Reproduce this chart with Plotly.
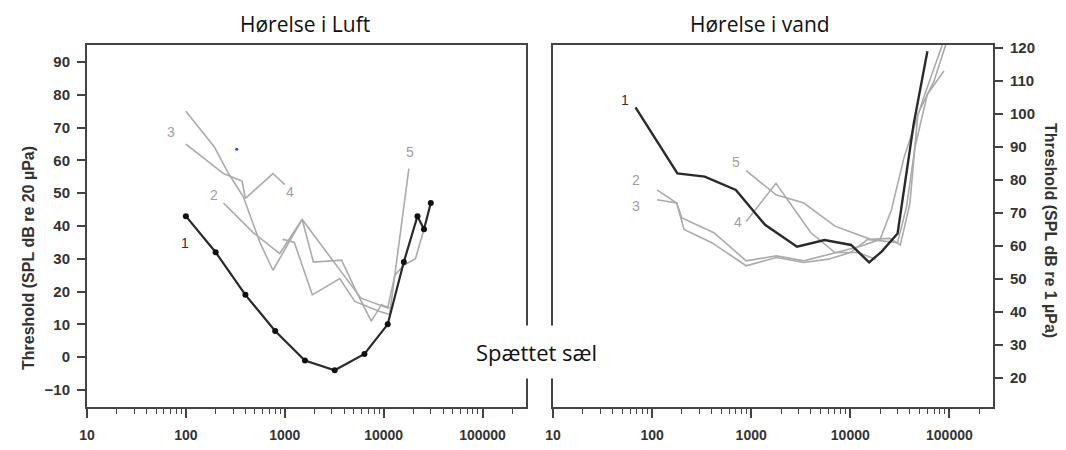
import plotly.graph_objects as go

# ---------------- Data: in air (left panel) ----------------
air1_f = [100, 200, 400, 800, 1600, 3200, 6400, 11000, 16000, 22000, 25600, 30000]
air1_v = [43, 32, 19, 8, -1, -4, 1, 10, 29, 43, 39, 47]

air2_f = [240, 480, 890, 1500, 5900, 11000, 13000, 16000, 21000, 25600]
air2_v = [47, 38, 31.6, 42, 18, 15, 25, 28, 30, 39]

air3_f = [100, 195, 270, 380, 560, 760, 1500, 1950, 3750, 5500, 7500, 9500, 11500]
air3_v = [75, 64, 56, 49, 35, 26.5, 42, 29, 29.6, 19, 11, 16, 15]

air4_f = [100, 240, 370, 400, 760, 1000]
air4_v = [65, 56, 53.7, 48.4, 56, 52.6]

air5_f = [950, 1250, 1900, 3600, 5100, 9000, 11500, 18000]
air5_v = [36, 35, 19, 24, 17, 14, 13, 57.5]

# ---------------- Data: in water (right panel) ----------------
wat1_f = [68, 180, 340, 700, 1380, 2900, 5500, 10200, 15500, 20700, 30000, 43600, 60000]
wat1_v = [102, 82, 81, 77, 66.4, 59.8, 61.8, 60.3, 55, 58.3, 63.8, 97, 119]

wat2_f = [112, 177, 200, 420, 890, 1800, 3400, 7000, 13000, 20000, 26000, 35000, 55000, 85000]
wat2_v = [77, 73, 68.5, 64, 55.5, 57, 55.5, 58, 60, 62, 71, 87, 105, 121]

wat3_f = [112, 177, 210, 400, 890, 1800, 3400, 6000, 10000, 15000, 30000, 37000, 45000, 60000, 88000]
wat3_v = [74, 73, 65, 61, 54, 56.5, 55, 56, 58, 62, 61, 72, 90, 106, 113]

wat4_f = [890, 1780, 4000, 7000, 12000, 18000]
wat4_v = [67.4, 79, 64, 58, 58, 56]

wat5_f = [890, 1780, 3400, 7000, 16000, 25000, 32000, 40000, 48000, 70000, 92000]
wat5_v = [82.8, 75.5, 73, 66, 62, 62.3, 60.3, 73, 100, 110, 121]

stray_f = [327]
stray_v = [63.4]

# curve number labels: (text, log10 f, value)
air_labels = [("1", 1.99, 34.8), ("2", 2.283, 49.4), ("3", 1.85, 68.6), ("4", 3.05, 50.3), ("5", 4.27, 62.5)]
wat_labels = [("1", 1.73, 104.2), ("2", 1.84, 80.0), ("3", 1.84, 72.2), ("4", 2.87, 67.4), ("5", 2.85, 85.4)]

xtick_vals = [10, 100, 1000, 10000, 100000]
xtick_text = ["10", "100", "1000", "10000", "100000"]
air_yticks = [-10, 0, 10, 20, 30, 40, 50, 60, 70, 80, 90]
wat_yticks = [20, 30, 40, 50, 60, 70, 80, 90, 100, 110, 120]

W, H = 1066, 450
OFF = 8  # page body margin of the browser


def px(x):
    return (x - OFF) / W


def py(y):
    return 1 - (y - OFF) / H


GREY = "#ababab"
DARK = "#2a2a2a"
AXC = "#444444"
XTICKFONT = dict(family="Liberation Sans, Arial, sans-serif", size=14, color="#333333", weight="bold")
YTICKFONT = dict(family="Liberation Sans, Arial, sans-serif", size=15, color="#333333", weight="bold")

fig = go.Figure()

for f, v in [(air2_f, air2_v), (air3_f, air3_v), (air4_f, air4_v), (air5_f, air5_v)]:
    fig.add_trace(go.Scatter(x=f, y=v, mode="lines", line=dict(color=GREY, width=1.6),
                             xaxis="x", yaxis="y", showlegend=False, hoverinfo="skip"))
fig.add_trace(go.Scatter(x=air1_f, y=air1_v, mode="lines+markers",
                         line=dict(color=DARK, width=2.2), marker=dict(color="#111", size=6),
                         xaxis="x", yaxis="y", showlegend=False))
fig.add_trace(go.Scatter(x=stray_f, y=stray_v, mode="markers", marker=dict(color="#3040ff", size=3),
                         xaxis="x", yaxis="y", showlegend=False, hoverinfo="skip"))

for f, v in [(wat2_f, wat2_v), (wat3_f, wat3_v), (wat4_f, wat4_v), (wat5_f, wat5_v)]:
    fig.add_trace(go.Scatter(x=f, y=v, mode="lines", line=dict(color=GREY, width=1.6),
                             xaxis="x2", yaxis="y2", showlegend=False, hoverinfo="skip"))
fig.add_trace(go.Scatter(x=wat1_f, y=wat1_v, mode="lines", line=dict(color=DARK, width=2.4),
                         xaxis="x2", yaxis="y2", showlegend=False))

xcommon = dict(type="log", range=[1, 5.44], tickvals=xtick_vals, ticktext=xtick_text,
               ticks="outside", ticklen=9, tickwidth=1.5, tickcolor=AXC, ticklabelstandoff=5,
               showline=True, linecolor=AXC, linewidth=2, mirror=True, automargin=False,
               showgrid=False, zeroline=False, tickfont=XTICKFONT,
               minor=dict(ticks="outside", ticklen=5, tickcolor=AXC, tickwidth=1.2, dtick="D1", showgrid=False))

ycommon = dict(ticks="outside", ticklen=8, tickwidth=1.5, tickcolor=AXC, ticklabelstandoff=4,
               showline=True, linecolor=AXC, linewidth=2, mirror=True, automargin=False,
               showgrid=False, zeroline=False, tickfont=YTICKFONT)

ydom = [py(407), py(45)]
fig.update_layout(
    width=W, height=H,
    margin=dict(l=0, r=0, t=0, b=0, autoexpand=False),
    paper_bgcolor="white", plot_bgcolor="white",
    xaxis=dict(domain=[px(87), px(526)], anchor="y", **xcommon),
    xaxis2=dict(domain=[px(553), px(993)], anchor="y2", **xcommon),
    yaxis=dict(domain=ydom, anchor="x", range=[-15.2, 95.2], tickvals=air_yticks, **ycommon),
    yaxis2=dict(domain=ydom, anchor="x2", side="right", range=[11.2, 120.9], tickvals=wat_yticks, **ycommon),
)

ann = []
for t, lx, v in air_labels:
    ann.append(dict(x=lx, y=v, xref="x", yref="y", text=t, showarrow=False,
                    xanchor="center", yanchor="middle",
                    font=dict(family="Arial", size=14, color=("#2e3440" if t == "1" else "#a0a0a0"))))
for t, lx, v in wat_labels:
    ann.append(dict(x=lx, y=v, xref="x2", yref="y2", text=t, showarrow=False,
                    xanchor="center", yanchor="middle",
                    font=dict(family="Arial", size=14, color=("#2e3440" if t == "1" else "#a0a0a0"))))

TITLEFONT = dict(family="Open Sans, Noto Sans, sans-serif", size=21, color="#111")
ann.append(dict(x=px(305), y=py(24), xref="paper", yref="paper", text="Hørelse i Luft", showarrow=False,
                xanchor="center", yanchor="middle", font=TITLEFONT))
ann.append(dict(x=px(760), y=py(24), xref="paper", yref="paper", text="Hørelse i vand", showarrow=False,
                xanchor="center", yanchor="middle", font=TITLEFONT))
ann.append(dict(x=px(536), y=py(352), xref="paper", yref="paper", text="Spættet sæl", showarrow=False,
                xanchor="center", yanchor="middle",
                font=dict(family="Open Sans, Noto Sans, sans-serif", size=22, color="#111"),
                bgcolor="white", borderpad=11))
YLAB = dict(family="Liberation Sans, Arial, sans-serif", size=16, color="#333", weight="bold")
ann.append(dict(x=px(28), y=py(258), xref="paper", yref="paper", text="Threshold (SPL dB re 20 µPa)",
                showarrow=False, textangle=-90, xanchor="center", yanchor="middle", font=YLAB))
ann.append(dict(x=px(1051), y=py(230), xref="paper", yref="paper", text="Threshold (SPL dB re 1 µPa)",
                showarrow=False, textangle=90, xanchor="center", yanchor="middle", font=YLAB))

fig.update_layout(annotations=ann)
fig.write_html("out.html")
